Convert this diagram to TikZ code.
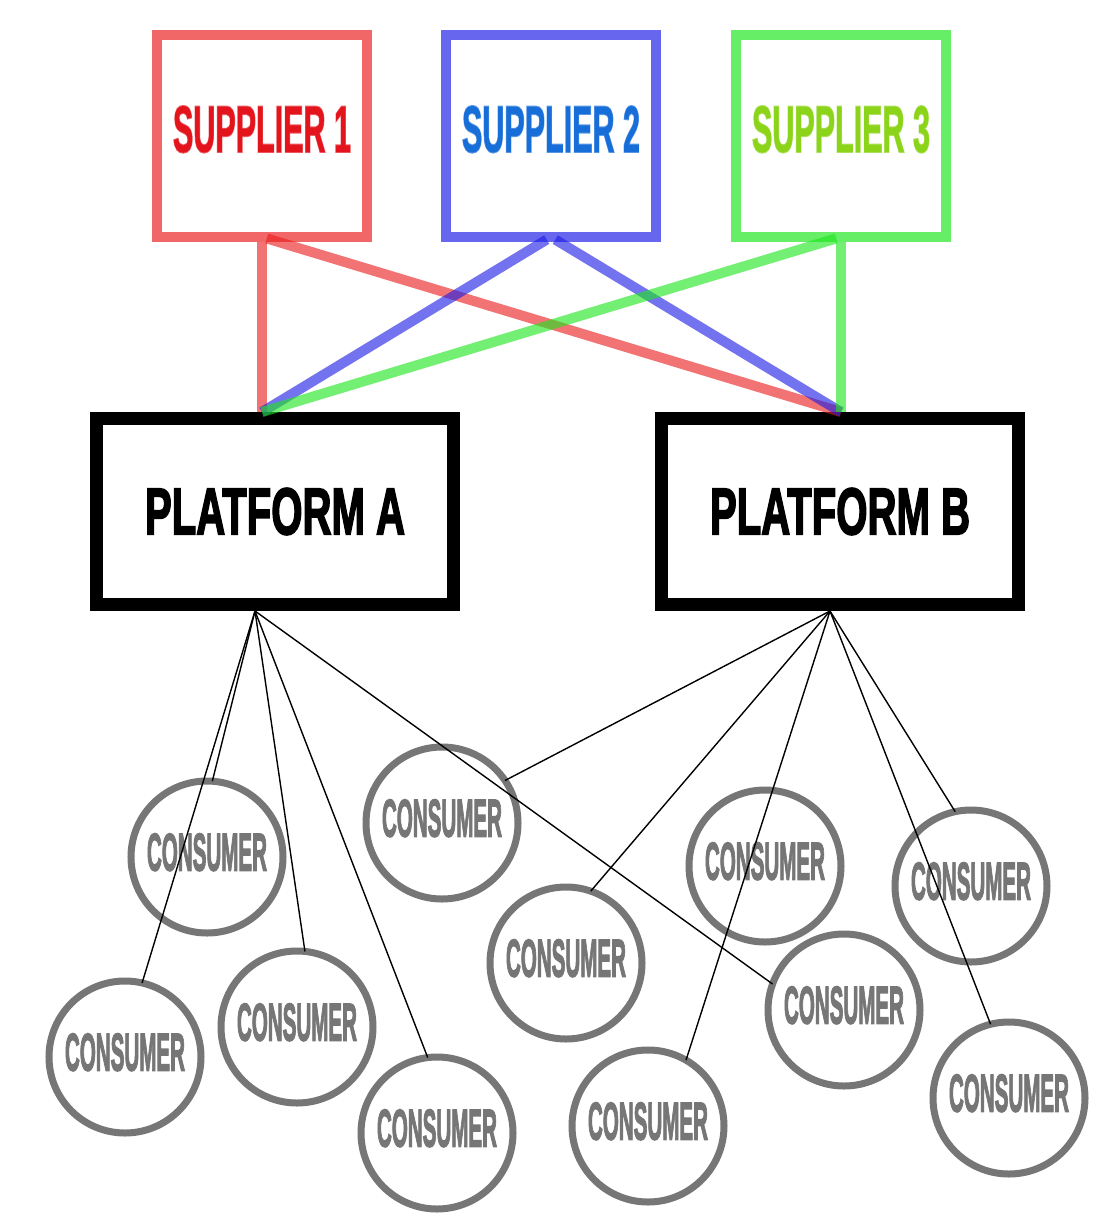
\documentclass[tikz,border=0pt]{standalone}
\usepackage{fontspec}
\setmainfont{Liberation Sans}
\newfontfamily\heavyfont{Liberation Sans}[BoldFeatures={FakeBold=3}]
\usepackage{graphicx}
\definecolor{sred}{RGB}{235,30,30}
\definecolor{sblue}{RGB}{30,30,230}
\definecolor{sgreen}{RGB}{30,230,30}
\definecolor{tred}{RGB}{228,20,28}
\definecolor{tblue}{RGB}{24,110,216}
\definecolor{tgreen}{RGB}{140,212,26}
\definecolor{consgray}{RGB}{118,118,118}
\newcommand\fittext[3]{\resizebox{#1}{#2}{\heavyfont\bfseries #3}}
\newcommand\supptext[1]{\raisebox{7bp}[46bp][0pt]{\fittext{178bp}{46bp}{#1}}}
\newcommand\constext{\raisebox{5bp}[37bp][0pt]{\fittext{120bp}{37bp}{CONSUMER}}}
\begin{document}
\begin{tikzpicture}[x=1bp,y=-1bp,
  supplier/.style={draw=#1, draw opacity=0.68, line width=10bp, minimum width=210bp,
    minimum height=202bp, inner sep=0pt, outer sep=0pt},
  platform/.style={draw=black, line width=13bp, minimum width=357bp,
    minimum height=186bp, inner sep=0pt, outer sep=0pt},
  consumer/.style={circle, draw=consgray, line width=7bp, minimum size=152bp,
    inner sep=0pt, outer sep=0pt, text=consgray},
  feed/.style={draw=#1, draw opacity=0.62, line width=10bp},
  link/.style={draw=black, line width=1.4bp}]
\useasboundingbox (0,0) rectangle (1101,1216);
\fill[white] (0,0) rectangle (1101,1216);

% suppliers
\node[supplier=sred]   (s1) at (262,136) {\color{tred}\supptext{SUPPLIER 1}};
\node[supplier=sblue]  (s2) at (551,136) {\color{tblue}\supptext{SUPPLIER 2}};
\node[supplier=sgreen] (s3) at (841,136) {\color{tgreen}\supptext{SUPPLIER 3}};

% platforms
\node[platform] (pa) at (275,511.5) {\fittext{260bp}{46bp}{PLATFORM A}};
\node[platform] (pb) at (840,511.5) {\fittext{260bp}{46bp}{PLATFORM B}};

\coordinate (paIn)  at (262,412);
\coordinate (pbIn)  at (841,412);
\coordinate (paOut) at (255,611);
\coordinate (pbOut) at (830,611);

% supplier feeds
\draw[feed=sred,   shorten <=5bp] (s1.south) -- (paIn);
\draw[feed=sred,   shorten <=5bp] (s1.south) -- (pbIn);
\draw[feed=sblue,  shorten <=5bp] (s2.south) -- (paIn);
\draw[feed=sblue,  shorten <=5bp] (s2.south) -- (pbIn);
\draw[feed=sgreen, shorten <=5bp] (s3.south) -- (paIn);
\draw[feed=sgreen, shorten <=5bp] (s3.south) -- (pbIn);

% consumers
\node[consumer] (c1)  at (207,857)  {\constext};
\node[consumer] (c2)  at (442,823)  {\constext};
\node[consumer] (c3)  at (125,1057) {\constext};
\node[consumer] (c4)  at (297,1027) {\constext};
\node[consumer] (c5)  at (437,1133) {\constext};
\node[consumer] (c6)  at (566,963)  {\constext};
\node[consumer] (c7)  at (765,866)  {\constext};
\node[consumer] (c8)  at (844,1010) {\constext};
\node[consumer] (c9)  at (971,886)  {\constext};
\node[consumer] (c10) at (648,1126) {\constext};
\node[consumer] (c11) at (1009,1098) {\constext};

% platform A links
\draw[link] (paOut) -- (c1.86);
\draw[link] (paOut) -- (c3.77);
\draw[link] (paOut) -- (c4.84);
\draw[link] (paOut) -- (c5.97);
\draw[link] (paOut) -- (c8.160);
% platform B links
\draw[link] (pbOut) -- (c2.34);
\draw[link] (pbOut) -- (c6.71);
\draw[link] (pbOut) -- (c10.60);
\draw[link] (pbOut) -- (c9.102);
\draw[link] (pbOut) -- (c11.104);
\end{tikzpicture}
\end{document}
